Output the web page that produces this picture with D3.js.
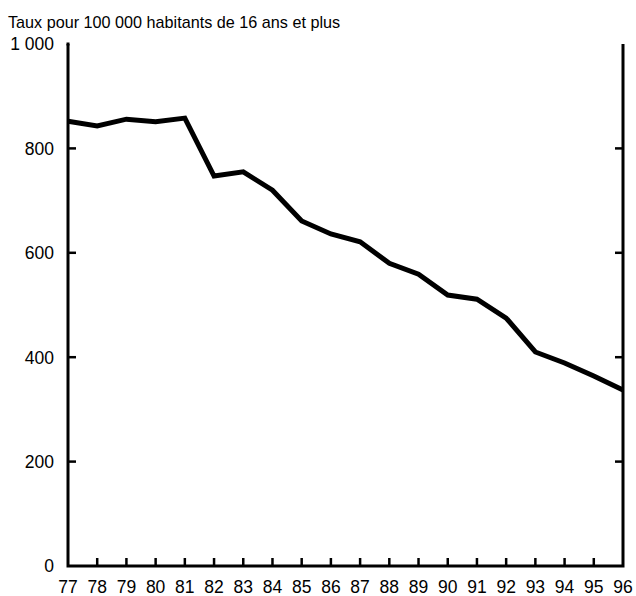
<!DOCTYPE html>
<html>
<head>
<meta charset="utf-8">
<script src="https://cdn.jsdelivr.net/npm/d3@7"></script>
<style>
body{margin:0;background:#fff;}
text{font-family:"Liberation Sans",Arial,sans-serif;font-size:17.5px;fill:#000;}
.title{font-size:16.2px;}
</style>
</head>
<body>
<script>
//data
var years=["77","78","79","80","81","82","83","84","85","86","87","88","89","90","91","92","93","94","95","96"];
var rates=[852,843,856,851,858,747,755,720,661,636,621,580,559,519,511,475,410,389,364,337];
var yTicks=[0,200,400,600,800,1000];
var yTickLabels=["0","200","400","600","800","1 000"];
var title="Taux pour 100 000 habitants de 16 ans et plus";

var width=636,height=596;
var margin={left:68,right:13,top:44,bottom:30};

var svg=d3.select("body").append("svg")
	.attr("width",width)
	.attr("height",height);

var x=d3.scalePoint()
	.domain(years)
	.range([margin.left,width-margin.right]);

var y=d3.scaleLinear()
	.domain([0,1000])
	.range([height-margin.bottom,margin.top]);

//title
svg.append("text")
	.attr("class","title")
	.attr("x",8)
	.attr("y",28)
	.text(title);

//frame: left, bottom, right (no top)
var x0=x(years[0]),x1=x(years[years.length-1]),yb=y(0),yt=y(1000);
svg.append("path")
	.attr("d","M"+x0+","+yt+"V"+yb+"H"+x1+"V"+yt)
	.attr("fill","none")
	.attr("stroke","#000")
	.attr("stroke-width",3);
svg.append("line")
	.attr("x1",x0-1.5).attr("x2",x0+1.5)
	.attr("y1",yt).attr("y2",yt)
	.attr("stroke","#000").attr("stroke-width",3);

//y ticks inward on both sides
var inner=yTicks.filter(function(d){return d>0&&d<1000;});
svg.selectAll(".ytl").data(inner).enter().append("line")
	.attr("x1",x0).attr("x2",x0+8)
	.attr("y1",function(d){return y(d);}).attr("y2",function(d){return y(d);})
	.attr("stroke","#000").attr("stroke-width",2.5);
svg.selectAll(".ytr").data(inner).enter().append("line")
	.attr("x1",x1).attr("x2",x1-8)
	.attr("y1",function(d){return y(d);}).attr("y2",function(d){return y(d);})
	.attr("stroke","#000").attr("stroke-width",2.5);

//y labels
svg.selectAll(".ylab").data(yTicks).enter().append("text")
	.attr("x",54)
	.attr("y",function(d){return y(d);})
	.attr("dy","0.36em")
	.attr("text-anchor","end")
	.text(function(d,i){return yTickLabels[i];});

//x ticks inward
svg.selectAll(".xt").data(years.slice(1,-1)).enter().append("line")
	.attr("x1",function(d){return x(d);}).attr("x2",function(d){return x(d);})
	.attr("y1",yb).attr("y2",yb-8)
	.attr("stroke","#000").attr("stroke-width",2.5);

//x labels
svg.selectAll(".xlab").data(years).enter().append("text")
	.attr("x",function(d){return x(d);})
	.attr("y",yb+27)
	.attr("text-anchor","middle")
	.text(function(d){return d;});

//line
var line=d3.line()
	.x(function(d,i){return x(years[i]);})
	.y(function(d){return y(d);});

svg.append("path")
	.datum(rates)
	.attr("d",line)
	.attr("fill","none")
	.attr("stroke","#000")
	.attr("stroke-width",5)
	.attr("stroke-linejoin","miter");
</script>
</body>
</html>
